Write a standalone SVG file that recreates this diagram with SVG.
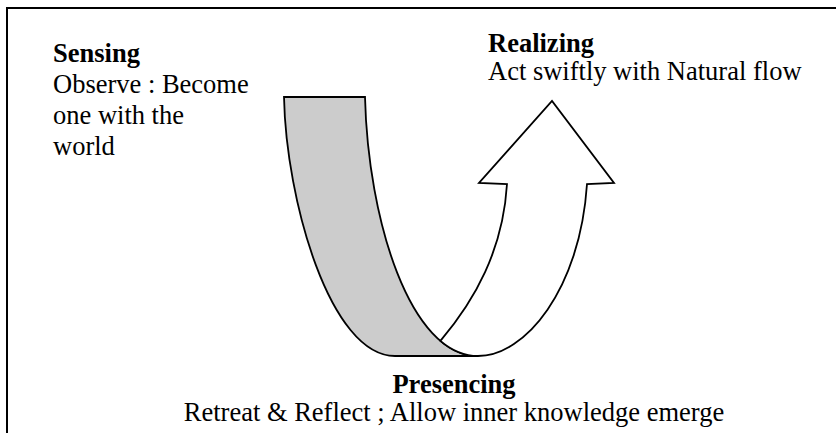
<svg xmlns="http://www.w3.org/2000/svg" width="836" height="433" viewBox="0 0 836 433">
<style>
text{font-family:"Liberation Serif","Times New Roman",Times,serif;font-size:26.5px;fill:#000}
.b{font-weight:bold}
.shape{stroke:#000;stroke-width:1.8;stroke-linejoin:miter}
</style>
<rect width="836" height="433" fill="#fff"/>
<path d="M7,433 V8 H836" fill="none" stroke="#000" stroke-width="2"/>
<g id="connectors">
<path id="band" class="shape" fill="#cccccc" d="M284,97 L365,97 C368,220 410,356 478,356 L395,356 C330,356 286,200 284,97 Z"/>
<path id="arrow" class="shape" fill="#ffffff" d="M440.4,340.9 C475,300 503,250 507,184 L479,183 L552,101 L614,183 L587,184 C580,290 525,356 478,356 C464.4,356 451.8,350.6 440.4,340.9 Z"/>
</g>
<g id="sensing">
<text class="b" x="53" y="62">Sensing</text>
<text x="53" y="93">Observe : Become</text>
<text x="53" y="124">one with the</text>
<text x="53" y="155">world</text>
</g>
<g id="realizing">
<text class="b" x="488" y="52">Realizing</text>
<text x="488" y="80">Act swiftly with Natural flow</text>
</g>
<g id="presencing">
<text class="b" x="454" y="393" text-anchor="middle">Presencing</text>
<text x="454" y="421" text-anchor="middle">Retreat &amp; Reflect ; Allow inner knowledge emerge</text>
</g>
</svg>
